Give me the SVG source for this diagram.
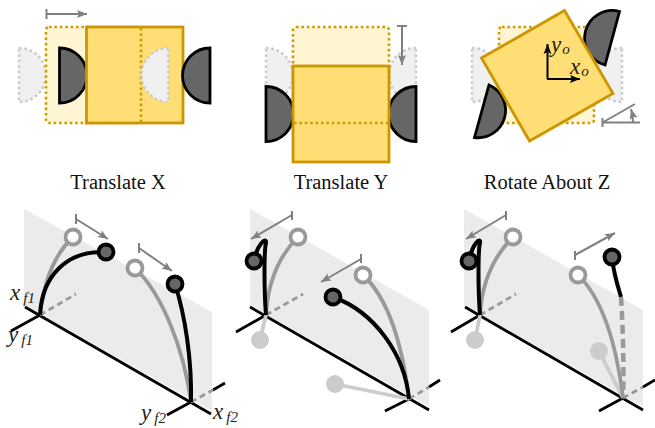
<svg xmlns="http://www.w3.org/2000/svg" width="655" height="428" viewBox="0 0 655 428">
<style>
.gh{fill:#f0f0f0;stroke:#ccc;stroke-width:2.6;stroke-dasharray:2.600 2.800}
.gr{fill:#fff5d3;stroke:#d09a00;stroke-width:2.600;stroke-dasharray:2.600 2.800}
.so{fill:#ffdf75;stroke:#cc9600;stroke-width:2.800}
.bk{fill:#666;stroke:#000;stroke-width:2.800}
.do{fill:none;stroke:#d09a00;stroke-width:2.600;stroke-dasharray:2.600 2.800}
.ar{fill:none;stroke:#808080;stroke-width:2}
.pl{fill:#ebebeb}
.ax{fill:none;stroke:#000;stroke-width:2.800}
.ds{fill:none;stroke:#999;stroke-width:2.800;stroke-dasharray:6 4}
.cg{fill:none;stroke:#999;stroke-width:3.800}
.cb{fill:none;stroke:#000;stroke-width:4}
.cl{fill:none;stroke:#ccc;stroke-width:3.800}
.hg{fill:#fff;stroke:#999;stroke-width:3.800}
.hb{fill:#666;stroke:#000;stroke-width:3.800}
.gc{fill:#ccc}
.t{font-family:"Liberation Serif",serif;font-size:20.500px;fill:#111;text-anchor:middle}
.m{font-family:"Liberation Serif",serif;font-style:italic;font-size:23px;fill:#222}
.s{font-size:15px}
</style>
<defs>
<marker id="a" markerUnits="userSpaceOnUse" markerWidth="11" markerHeight="9" refX="10" refY="4.500" orient="auto"><path d="M0 0.500L10 4.500L0 8.500L2 4.500z" fill="#808080"/></marker>
<marker id="k" markerUnits="userSpaceOnUse" markerWidth="11" markerHeight="9" refX="10" refY="4.500" orient="auto"><path d="M0 0.500L10 4.500L0 8.500L2 4.500z" fill="#000"/></marker>
</defs>

<g id="translate-x">
<path class="gh" d="M19 48A27 27 0 0 1 19 102z"/>
<rect class="gr" x="46" y="27" width="95" height="96" rx="3"/>
<path class="bk" d="M59.500 48A27.500 27.500 0 0 1 59.500 103z"/>
<rect class="so" x="86.500" y="27" width="96.500" height="96"/>
<path class="do" d="M141 28V123"/>
<path class="gh" d="M168.500 48A27 27 0 0 0 168.500 102z"/>
<path class="bk" d="M210 48A27.500 27.500 0 0 0 210 103z"/>
<path class="ar" d="M46.500 9V19M46.500 14H87" marker-end="url(#a)"/>
<text class="t" x="118" y="189">Translate X</text>
</g>

<g id="translate-y">
<path class="gh" d="M266 48A27 27 0 0 1 266 102z"/>
<path class="gh" d="M416 48A27 27 0 0 0 416 102z"/>
<rect class="gr" x="293" y="27" width="96" height="96" rx="3"/>
<path class="bk" d="M266 86.500A27.500 27.500 0 0 1 266 141.500z"/>
<path class="bk" d="M416 86.500A27.500 27.500 0 0 0 416 141.500z"/>
<rect class="so" x="293" y="66" width="96" height="96"/>
<path class="do" d="M294 123H389"/>
<path class="ar" d="M397 26H407M402 26V65" marker-end="url(#a)"/>
<text class="t" x="341" y="189">Translate Y</text>
</g>

<g id="rotate-z">
<path class="gh" d="M472 48A27 27 0 0 1 472 102z"/>
<path class="gh" d="M622 48A27 27 0 0 0 622 102z"/>
<rect class="gr" x="499" y="27" width="95" height="96" rx="3"/>
<path class="bk" d="M619.500 11.500A27.500 27.500 0 0 0 605 65z"/>
<path class="bk" d="M489 85A27.500 27.500 0 0 1 474.500 137.500z"/>
<path class="so" d="M481.500 58L564.500 10.500L613 93.500L529.500 141z"/>
<path class="ax" style="stroke-width:2" d="M547.500 79V44" marker-end="url(#k)"/>
<path class="ax" style="stroke-width:2" d="M547 79H580" marker-end="url(#k)"/>
<text class="m" x="551" y="52">y<tspan class="s" dy="2" dx="1">o</tspan></text>
<text class="m" x="570" y="74">x<tspan class="s" dy="2" dx="1">o</tspan></text>
<path class="ar" d="M602.500 118V127M602.500 122.500H640M602.500 122.500L635 104"/>
<path class="ar" d="M633 122Q633 116 631 109" marker-end="url(#a)"/>
<text class="t" x="547" y="189">Rotate About Z</text>
</g>

<g id="plane-1"><path class="pl" d="M24 209L212 312V411L24 305z"/></g>
<g id="plane-2"><path class="pl" d="M250 209L429 310V407L250 305z"/></g>
<g id="plane-3"><path class="pl" d="M464 209L643 310V407L464 305z"/></g>

<g id="connectors">
<path class="ax" d="M25 307L211 414M11 331L40 315"/>
<path class="ds" d="M40 315L76 294"/>
<path class="ax" d="M167 415L191 402M213 390L225 383"/>
<path class="ds" d="M191 402L213 390"/>
<path class="cg" d="M40 315C44 280 56 253 73 237"/>
<path class="cb" d="M40 315C42 275 68 250 106 252"/>
<path class="cg" d="M191 402C184 350 163 295 135 268"/>
<path class="cb" d="M191 402C192 360 185 315 175 284"/>
<path class="ar" d="M76 214V224M76 219L108 239" marker-end="url(#a)"/>
<path class="ar" d="M139 243V253M139 248L172 271" marker-end="url(#a)"/>

<path class="ax" d="M250 307L429 410M236 332L266 315"/>
<path class="ds" d="M266 315L303 294"/>
<path class="ax" d="M385 411L409 399M429 387L440 380"/>
<path class="ds" d="M409 399L429 387"/>
<path class="cl" d="M266 315L260 340"/>
<path class="cl" d="M335 384L409 399"/>
<path class="cg" d="M266 315C268 280 280 255 298 237"/>
<path class="cb" d="M266 315C264 290 264 250 266 243C267 236 257 244 254 261"/>
<path class="cg" d="M409 399C403 350 390 300 363 275"/>
<path class="cb" d="M409 399C405 355 375 312 333 297"/>
<path class="ar" d="M292 211V220M292 215L251 239" marker-end="url(#a)"/>
<path class="ar" d="M361 254V263M361 259L321 282" marker-end="url(#a)"/>

<path class="ax" d="M465 307L643 410M451 332L480 315"/>
<path class="ds" d="M480 315L516 294"/>
<path class="ax" d="M599 411L623 398M643 387L655 380"/>
<path class="ds" d="M623 398L643 387"/>
<path class="cl" d="M480 315L475 340"/>
<path class="cl" d="M599 351L623 398"/>
<path class="cg" d="M480 315C482 280 495 255 513 237"/>
<path class="cb" d="M480 315C478 290 478 250 480 243C481 236 472 244 469 261"/>
<path class="cg" d="M623 398C617 350 604 300 578 275"/>
<path class="cb" d="M612 257C613 270 617 284 621 297"/>
<path class="cg" style="stroke-width:4.500;stroke-dasharray:9 5" d="M621 297C623 330 624 365 623 398"/>
<path class="ar" d="M506 211V220M506 215L466 239" marker-end="url(#a)"/>
<path class="ar" d="M575 251V260M575 255L615 233" marker-end="url(#a)"/>
</g>

<g id="joints-1">
<circle class="hg" cx="73" cy="237" r="7.500"/><circle class="hb" cx="106" cy="252" r="7.500"/>
<circle class="hg" cx="135" cy="268" r="7.500"/><circle class="hb" cx="175" cy="284" r="7.500"/>
</g>
<g id="joints-2">
<circle class="gc" cx="260" cy="340" r="9"/><circle class="gc" cx="335" cy="384" r="9"/>
<circle class="hg" cx="298" cy="237" r="7.500"/><circle class="hb" cx="254" cy="261" r="7.500"/>
<circle class="hg" cx="363" cy="275" r="7.500"/><circle class="hb" cx="333" cy="297" r="7.500"/>
</g>
<g id="joints-3">
<circle class="gc" cx="475" cy="340" r="9"/><circle class="gc" cx="599" cy="351" r="9"/>
<circle class="hg" cx="513" cy="237" r="7.500"/><circle class="hb" cx="469" cy="261" r="7.500"/>
<circle class="hg" cx="578" cy="275" r="7.500"/><circle class="hb" cx="612" cy="257" r="7.500"/>
</g>

<g id="labels">
<text class="m" x="10" y="300">x<tspan class="s" dy="3" dx="3">f1</tspan></text>
<text class="m" x="8" y="342">y<tspan class="s" dy="3" dx="3">f1</tspan></text>
<text class="m" x="141" y="420">y<tspan class="s" dy="3" dx="3">f2</tspan></text>
<text class="m" x="213" y="419">x<tspan class="s" dy="3" dx="3">f2</tspan></text>
</g>
</svg>
